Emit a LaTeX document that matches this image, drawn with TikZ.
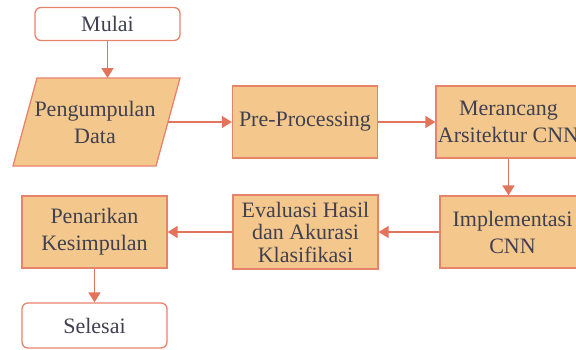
\documentclass[tikz,border=0pt]{standalone}
\usepackage{fontspec}
\setmainfont{Liberation Serif}
\usetikzlibrary{arrows.meta}
\definecolor{boxfill}{HTML}{F4C88C}
\definecolor{boxline}{HTML}{E8836B}
\definecolor{arrowc}{HTML}{E2745C}
\definecolor{txt}{HTML}{404050}
\tikzset{
  procbox/.style={draw=boxline, fill=boxfill, line width=1.3pt, minimum width=145pt,
    minimum height=72pt, inner sep=0pt, align=center, text=txt,
    font=\fontsize{22}{27}\selectfont},
  termbox/.style={draw=boxline, fill=white, line width=1.3pt, rounded corners=6pt,
    minimum width=145pt, inner sep=0pt, align=center, text=txt,
    font=\fontsize{22}{27}\selectfont},
  flow/.style={draw=arrowc, line width=1.4pt, -{Triangle[length=10pt,width=12pt]}}
}
\begin{document}
\begin{tikzpicture}[x=1pt,y=-1pt]
\useasboundingbox (0,0) rectangle (576,349);
\clip (0,0) rectangle (576,349);
% terminals
\node[termbox, minimum height=33pt] (mulai) at (107.5,24) {Mulai};
% parallelogram
\coordinate (ptl) at (37,78);
\coordinate (ptr) at (180,78);
\coordinate (pbr) at (156,166);
\coordinate (pbl) at (13,166);
\draw[draw=boxline, fill=boxfill, line width=1.3pt] (ptl) -- (ptr) -- (pbr) -- (pbl) -- cycle;
\node[align=center, text=txt, font=\fontsize{22}{27}\selectfont] (data) at (95,122) {Pengumpulan\\Data};
\coordinate (pin) at (107.5,78);
\coordinate (pout) at (168,122);
% process boxes
\node[procbox] (pre) at (305,122) {Pre-Processing};
\node[procbox] (cnn) at (508.5,122) {Merancang\\Arsitektur CNN};
\node[procbox] (impl) at (512.5,232) {Implementasi\\CNN};
\node[procbox, minimum height=74pt, font=\fontsize{22}{22.5}\selectfont] (eval) at (305.5,232) {Evaluasi Hasil\\dan Akurasi\\Klasifikasi};
\node[procbox] (tarik) at (94.5,232) {Penarikan\\Kesimpulan};
\node[termbox, minimum height=45pt] (selesai) at (94.5,325.5) {Selesai};
% connectors
\draw[flow] (mulai.south -| pin) -- (pin);
\draw[flow] (pout) -- (pre.west);
\draw[flow] (pre.east) -- (cnn.west);
\draw[flow] (cnn.south) -- (cnn.south |- impl.north);
\draw[flow] (impl.west) -- (eval.east);
\draw[flow] (eval.west) -- (tarik.east);
\draw[flow] (tarik.south) -- (selesai.north);
\end{tikzpicture}
\end{document}
